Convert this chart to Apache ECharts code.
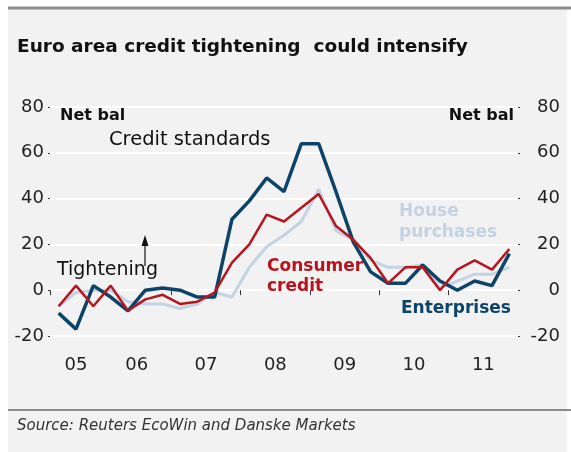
<!DOCTYPE html>
<html>
<head>
<meta charset="utf-8">
<script src="https://cdn.jsdelivr.net/npm/echarts@6/dist/echarts.min.js"></script>
<style>
html,body{margin:0;padding:0;background:#fff;}
#c{width:571px;height:452px;}
</style>
</head>
<body>
<div id="c"></div>
<script>
// Quarterly observations, 2005Q2 .. 2011Q4
const quarters = ["2005Q2","2005Q3","2005Q4","2006Q1","2006Q2","2006Q3","2006Q4","2007Q1","2007Q2","2007Q3","2007Q4","2008Q1","2008Q2","2008Q3","2008Q4","2009Q1","2009Q2","2009Q3","2009Q4","2010Q1","2010Q2","2010Q3","2010Q4","2011Q1","2011Q2","2011Q3","2011Q4"];
const enterprises = [-10,-17,2,-3,-9,0,1,0,-3,-3,31,39,49,43,64,64,43,21,8,3,3,11,4,0,4,2,16];
const consumerCredit = [-7,2,-7,2,-9,-4,-2,-6,-5,-1,12,20,33,30,36,42,28,22,14,3,10,10,0,9,13,9,18];
const housePurchases = [-7,-1,0,0,-5,-6,-6,-8,-6,-1,-3,10,19,24,30,44,26,22,13,10,10,11,1,4,7,7,10];
const yearLabels = ["05","06","07","08","09","10","11"];
const yTicks = [-20,0,20,40,60,80];

function qx(q){ const y=parseInt(q.slice(0,4)); const n=parseInt(q.slice(5)); return y+(n-0.5)/4; }
function pairs(vals){ return quarters.map((q,i)=>[qx(q), vals[i]]); }
const firstYear = 2005;
const labelVals = yearLabels.map((l,i)=> i===0 ? 2005.625 : firstYear+i+0.5);
const tickVals = [2005.25].concat(yearLabels.slice(1).map((l,i)=>firstYear+i+1));
const labelMap = {}; labelVals.forEach((v,i)=>labelMap[v.toFixed(3)]=yearLabels[i]);

const FONT = "DejaVu Sans";
const F = (s)=> s+' "'+FONT+'"';
const chart = echarts.init(document.getElementById('c'), null, {renderer:'canvas'});
const yAxisCommon = {
  type:'value', min:yTicks[0], max:yTicks[yTicks.length-1], interval:20,
  axisLine:{show:false},
  axisTick:{show:true, length:2, lineStyle:{color:'#333', width:1}},
  axisLabel:{color:'#222', fontSize:18, fontFamily:FONT}
};
chart.setOption({
  backgroundColor:'#ffffff',
  animation:false,
  grid:{left:50, right:53, top:107, bottom:116},
  graphic:[
    {type:'rect', z:-10, shape:{x:8,y:8,width:559,height:444}, style:{fill:'#f2f2f2'}},
    {type:'line', z:100, shape:{x1:8,y1:8,x2:571,y2:8}, style:{stroke:'#8c8c8c', lineWidth:3}},
    {type:'line', z:100, shape:{x1:8,y1:410,x2:571,y2:410}, style:{stroke:'#8c8c8c', lineWidth:2}},
    {type:'text', z:100, left:17, top:38, style:{text:'Euro area credit tightening  could intensify', font:F('bold 18.5px'), fill:'#111'}},
    {type:'text', z:100, left:17, top:419, style:{text:'Source: Reuters EcoWin and Danske Markets', font:F('italic 15px'), fill:'#333'}},
    {type:'text', z:100, left:60, top:108, style:{text:'Net bal', font:F('bold 16px'), fill:'#111'}},
    {type:'text', z:100, right:57, top:108, style:{text:'Net bal', font:F('bold 16px'), fill:'#111'}},
    {type:'text', z:100, left:109, top:130, style:{text:'Credit standards', font:F('19.5px'), fill:'#111'}},
    {type:'text', z:100, left:57, top:261, style:{text:'Tightening', font:F('19px'), fill:'#111'}},
    {type:'line', z:100, shape:{x1:145,y1:266,x2:145,y2:244}, style:{stroke:'#111', lineWidth:1.2}},
    {type:'polygon', z:100, shape:{points:[[145,235],[141.5,246],[148.5,246]]}, style:{fill:'#111'}},
    {type:'text', z:100, left:267, top:257, style:{text:'Consumer\ncredit', font:F('bold 17px'), lineHeight:20, fill:'#b8141e'}},
    {type:'text', z:100, left:399, top:201, style:{text:'House\npurchases', font:F('bold 17px'), lineHeight:21, fill:'#c3d3e4'}},
    {type:'text', z:100, left:401, top:300, style:{text:'Enterprises', font:F('bold 17px'), fill:'#0b4468'}}
  ],
  xAxis:{
    type:'value', min:2005.25, max:2012, offset:7,
    axisLine:{show:false},
    splitLine:{show:false},
    axisTick:{show:true, length:5, customValues:tickVals, lineStyle:{color:'#333', width:1}},
    axisLabel:{customValues:labelVals, margin:13, color:'#222', fontSize:18, fontFamily:FONT,
      formatter:(v)=>labelMap[Number(v).toFixed(3)]||''}
  },
  yAxis:[
    Object.assign({}, yAxisCommon, {position:'left', splitLine:{show:true, lineStyle:{color:'#ffffff', width:2}},
      axisLabel:Object.assign({}, yAxisCommon.axisLabel, {margin:6})}),
    Object.assign({}, yAxisCommon, {position:'right', splitLine:{show:false},
      axisLabel:Object.assign({}, yAxisCommon.axisLabel, {margin:42, align:'right'})})
  ],
  series:[
    {name:'House purchases', type:'line', data:pairs(housePurchases), symbol:'none', lineStyle:{color:'#c3d3e4', width:3}, z:2},
    {name:'Enterprises', type:'line', data:pairs(enterprises), symbol:'none', lineStyle:{color:'#0b4468', width:3.5}, z:3},
    {name:'Consumer credit', type:'line', data:pairs(consumerCredit), symbol:'none', lineStyle:{color:'#b8141e', width:2.5}, z:4}
  ]
});
</script>
</body>
</html>
